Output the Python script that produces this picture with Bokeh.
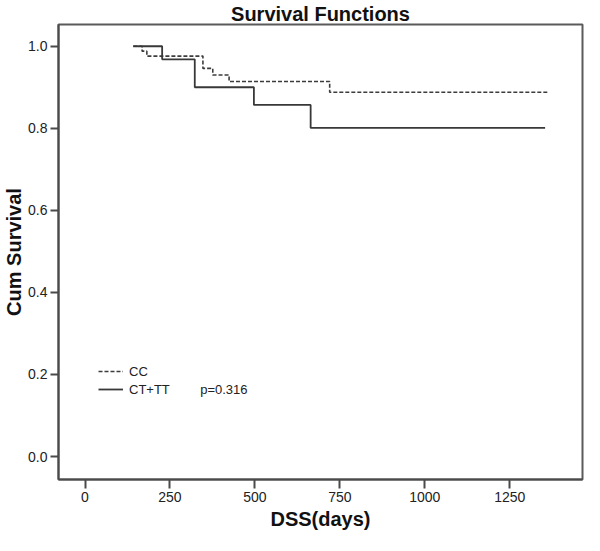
from bokeh.plotting import figure
from bokeh.models import Range1d, Legend, LegendItem, Label, FixedTicker, CustomJSTickFormatter
from bokeh.embed import file_html
from bokeh.resources import INLINE

# Kaplan-Meier steps
cc_days = [142, 168, 182, 347, 376, 424, 720, 1365]
cc_surv = [1.0, 0.988, 0.976, 0.946, 0.930, 0.914, 0.888, 0.888]
ct_days = [142, 227, 323, 497, 664, 1354]
ct_surv = [1.0, 0.968, 0.900, 0.857, 0.801, 0.801]
x_ticks = [0, 250, 500, 750, 1000, 1250]
y_ticks = [0.0, 0.2, 0.4, 0.6, 0.8, 1.0]
series_names = ["CC", "CT+TT"]
p_text = "p=0.316"

FONT = "Liberation Sans"
AX = "#4a4a4a"

p = figure(width=584, height=535, output_backend="svg", toolbar_location=None,
           x_range=Range1d(-78, 1464), y_range=Range1d(-0.056, 1.053),
           min_border_left=50, min_border_right=2, min_border_top=22, min_border_bottom=56,
           title="Survival Functions")
p.title.text_font = FONT
p.title.text_font_size = "20px"
p.title.text_font_style = "bold"
p.title.align = "center"
p.title.standoff = 0
p.title.text_color = "#111111"

p.xgrid.visible = False
p.ygrid.visible = False
p.outline_line_color = "#5a5a5a"
p.outline_line_width = 2
p.background_fill_color = "white"
p.border_fill_color = "white"

for ax in (p.xaxis[0], p.yaxis[0]):
    ax.axis_line_color = AX
    ax.axis_line_width = 2
    ax.major_tick_line_color = AX
    ax.major_tick_line_width = 2
    ax.major_tick_in = 0
    ax.minor_tick_line_color = None
    ax.major_label_text_font = FONT
    ax.major_label_text_font_size = "14px"
    ax.major_label_text_color = "#222222"
    ax.axis_label_text_font = FONT
    ax.axis_label_text_font_size = "20px"
    ax.axis_label_text_font_style = "bold"
    ax.axis_label_text_color = "#111111"

p.xaxis.ticker = FixedTicker(ticks=x_ticks)
p.yaxis.ticker = FixedTicker(ticks=y_ticks)
p.yaxis.formatter = CustomJSTickFormatter(code="return tick.toFixed(1);")
p.xaxis.axis_label = "DSS(days)"
p.yaxis.axis_label = "Cum Survival"
p.xaxis.major_tick_out = 9
p.yaxis.major_tick_out = 8
p.xaxis.major_label_standoff = 3
p.yaxis.major_label_standoff = 3
p.xaxis.axis_label_standoff = 3
p.yaxis.axis_label_standoff = 0

r_cc = p.step(cc_days, cc_surv, mode="after", line_color="#3c3c3c", line_width=1.6,
              line_dash="4 2")
r_ct = p.step(ct_days, ct_surv, mode="after", line_color="#383838", line_width=1.8)

legend = Legend(items=[LegendItem(label=series_names[0], renderers=[r_cc]),
                       LegendItem(label=series_names[1], renderers=[r_ct])],
                location=(40, 81), padding=0, margin=0, spacing=0,
                glyph_width=25, glyph_height=18, label_height=18, label_standoff=6,
                label_text_font=FONT, label_text_font_size="13px",
                label_text_color="#222222",
                background_fill_alpha=0, border_line_alpha=0)
p.add_layout(legend)

p.add_layout(Label(x=339, y=0.163, text=p_text, text_font=FONT, text_font_size="13px",
                   text_color="#222222", text_baseline="middle", text_align="left"))

open("out.html", "w").write(file_html(p, INLINE))
